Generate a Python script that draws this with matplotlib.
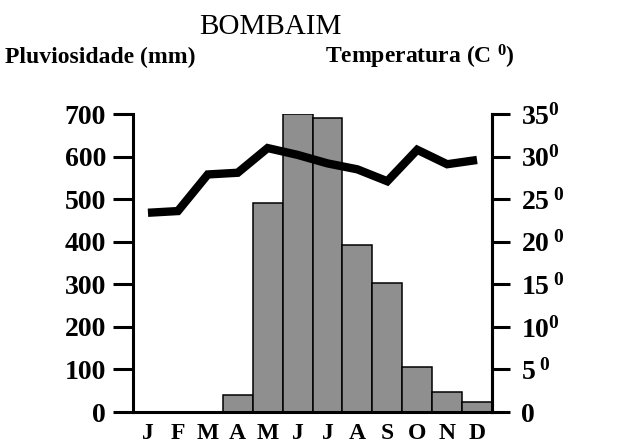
import matplotlib
matplotlib.use("Agg")
import matplotlib.pyplot as plt
import numpy as np

plt.rcParams['font.family'] = ['Liberation Serif', 'DejaVu Serif']
plt.rcParams['mathtext.fontset'] = 'custom'
plt.rcParams['mathtext.rm'] = 'Liberation Serif'
plt.rcParams['mathtext.bf'] = 'Liberation Serif:bold'

months = ['J', 'F', 'M', 'A', 'M', 'J', 'J', 'A', 'S', 'O', 'N', 'D']
rain = [0, 0, 0, 40, 490, 700, 690, 392, 304, 106, 48, 24]
temp = [23.4, 23.6, 27.9, 28.1, 31.0, 30.2, 29.2, 28.5, 27.1, 30.8, 29.1, 29.6]
rain_ticks = [0, 100, 200, 300, 400, 500, 600, 700]
temp_ticks = [0, 5, 10, 15, 20, 25, 30, 35]
temp_labels = ['0', r'$\mathbf{5\,^{0}}$', r'$\mathbf{10^{0}}$', r'$\mathbf{15\,^{0}}$',
               r'$\mathbf{20\,^{0}}$', r'$\mathbf{25\,^{0}}$', r'$\mathbf{30^{0}}$',
               r'$\mathbf{35^{0}}$']

fig = plt.figure(figsize=(6.17, 4.47), dpi=100)
ax = fig.add_axes([133 / 617, 35 / 447, 359 / 617, 298 / 447])
x = np.arange(len(months))
ax.bar(x, rain, width=1.0, color='#8f8f8f', edgecolor='black', linewidth=1.1)
ax.set_xlim(-0.5, 11.5)
ax.set_ylim(0, 700)
ax.set_xticks(x)
ax.set_xticklabels(months, fontsize=17, fontweight='bold')
ax.tick_params(axis='x', length=0, pad=8)
ax.set_yticks(rain_ticks)
ax.set_yticklabels([str(v) for v in rain_ticks], fontsize=20, fontweight='bold')
ax.tick_params(axis='y', direction='out', length=14.5, width=2.2, pad=5)
ax.spines['top'].set_visible(False)
for s in ['left', 'right', 'bottom']:
    ax.spines[s].set_linewidth(2.2)

ax2 = ax.twinx()
ax2.plot(x, temp, color='black', linewidth=6, solid_capstyle='butt', solid_joinstyle='miter')
ax2.set_ylim(0, 35)
ax2.set_yticks(temp_ticks)
ax2.set_yticklabels(temp_labels, fontsize=20, fontweight='bold')
ax2.tick_params(axis='y', direction='out', length=13, width=2.2, pad=8)
ax2.spines['top'].set_visible(False)
ax2.spines['right'].set_linewidth(2.2)

fig.text(270 / 617, 1 - 27 / 447, 'BOMBAIM', fontsize=21, ha='center', va='center')
fig.text(5 / 617, 1 - 57 / 447, 'Pluviosidade (mm)', fontsize=17, fontweight='bold',
         ha='left', va='center')
fig.text(515 / 617, 1 - 57 / 447, r'Temperatura (C $\mathbf{^{0}}$)', fontsize=17,
         fontweight='bold', ha='right', va='center')

fig.savefig('out.png', dpi=100)
